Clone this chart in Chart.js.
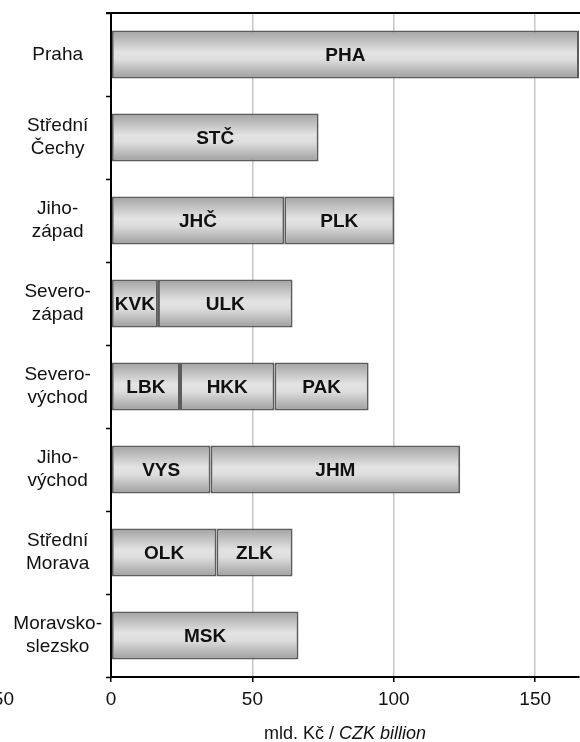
<!DOCTYPE html>
<html>
<head>
<meta charset="utf-8">
<script src="https://cdn.jsdelivr.net/npm/chart.js@4.4.0/dist/chart.umd.min.js"></script>
<style>
  html, body { margin: 0; padding: 0; background: #fff; }
  #wrap { width: 580px; height: 742px; }
</style>
</head>
<body>
<div id="wrap"><canvas id="myChart"></canvas></div>
<script>
// regions (y axis), two-line labels
var categories = [
    ['Praha'],
    ['Střední', 'Čechy'],
    ['Jiho-', 'západ'],
    ['Severo-', 'západ'],
    ['Severo-', 'východ'],
    ['Jiho-', 'východ'],
    ['Střední', 'Morava'],
    ['Moravsko-', 'slezsko']
];
// stacked segments, mld. Kč
var seg1 = [165.5, 73.4, 61.3, 16.6, 24.4, 35.2, 37.3, 66.3];
var seg2 = [null, null, 38.9, 47.6, 33.4, 88.3, 26.9, null];
var seg3 = [null, null, null, null, 33.3, null, null, null];
var names1 = ['PHA', 'STČ', 'JHČ', 'KVK', 'LBK', 'VYS', 'OLK', 'MSK'];
var names2 = ['', '', 'PLK', 'ULK', 'HKK', 'JHM', 'ZLK', ''];
var names3 = ['', '', '', '', 'PAK', '', '', ''];
var xTicks = [0, 50, 100, 150];

var font = '"Liberation Sans", Arial, sans-serif';

var barFill = function (c) {
    var chart = c.chart;
    if (!chart.chartArea || !chart.scales.y) return '#d0d0d0';
    var y = chart.scales.y.getPixelForValue(c.dataIndex);
    var h = 24;
    var g = chart.ctx.createLinearGradient(0, y - h, 0, y + h);
    g.addColorStop(0, '#a2a2a2');
    g.addColorStop(0.45, '#e3e3e3');
    g.addColorStop(0.6, '#dedede');
    g.addColorStop(1, '#9e9e9e');
    return g;
};

function makeSet(vals, names) {
    return {
        data: vals,
        names: names,
        backgroundColor: barFill,
        borderColor: '#5c5c5c',
        borderWidth: 2,
        borderSkipped: false,
        barPercentage: 0.58,
        categoryPercentage: 1
    };
}

var segLabels = {
    id: 'segLabels',
    afterDatasetsDraw: function (chart) {
        var ctx = chart.ctx;
        ctx.save();
        ctx.font = 'bold 19px ' + font;
        ctx.fillStyle = '#111';
        ctx.textAlign = 'center';
        ctx.textBaseline = 'middle';
        chart.data.datasets.forEach(function (ds, i) {
            chart.getDatasetMeta(i).data.forEach(function (el, j) {
                var t = ds.names[j];
                if (!t || ds.data[j] == null) return;
                var right = Math.min(el.x, chart.chartArea.right);
                ctx.fillText(t, (el.base + right) / 2, el.y + 1);
            });
        });
        ctx.restore();
    }
};

var frame = {
    id: 'frame',
    afterDraw: function (chart) {
        var ctx = chart.ctx;
        var a = chart.chartArea;
        ctx.save();
        ctx.strokeStyle = '#000';
        ctx.lineWidth = 2;
        ctx.beginPath();
        ctx.moveTo(a.left - 5, a.top);
        ctx.lineTo(a.right + 5, a.top);
        ctx.stroke();

        // axis title, mixed upright / italic
        ctx.fillStyle = '#111';
        ctx.textBaseline = 'alphabetic';
        var p1 = 'mld. Kč / ';
        var p2 = 'CZK billion';
        ctx.font = '18px ' + font;
        var w1 = ctx.measureText(p1).width;
        ctx.font = 'italic 18px ' + font;
        var w2 = ctx.measureText(p2).width;
        var x0 = (a.left + a.right) / 2 - (w1 + w2) / 2;
        ctx.font = '18px ' + font;
        ctx.textAlign = 'left';
        ctx.fillText(p1, x0, 739);
        ctx.font = 'italic 18px ' + font;
        ctx.fillText(p2, x0 + w1, 739);

        // neighbouring panel's last tick label, cut by the frame
        ctx.font = '19px ' + font;
        ctx.textAlign = 'right';
        ctx.textBaseline = 'middle';
        ctx.fillText('150', 14, 700);
        ctx.restore();
    }
};

var ctx = document.getElementById('myChart');
new Chart(ctx, {
    type: 'bar',
    data: {
        labels: categories,
        datasets: [makeSet(seg1, names1), makeSet(seg2, names2), makeSet(seg3, names3)]
    },
    options: {
        indexAxis: 'y',
        responsive: true,
        maintainAspectRatio: false,
        animation: false,
        layout: { padding: { top: 13, right: 1, bottom: 30, left: 0 } },
        plugins: {
            legend: { display: false },
            tooltip: { enabled: false }
        },
        scales: {
            x: {
                stacked: true,
                min: 0,
                max: 165.5,
                afterBuildTicks: function (scale) {
                    scale.ticks = xTicks.map(function (v) { return { value: v }; });
                },
                afterFit: function (scale) {
                    scale.height = 35;
                    scale.paddingLeft = 0;
                    scale.paddingRight = 0;
                },
                grid: {
                    color: '#c6c6c6',
                    lineWidth: 1.5,
                    tickColor: '#000',
                    tickLength: 5,
                    tickWidth: 1.5
                },
                border: { color: '#000', width: 2 },
                ticks: {
                    color: '#111',
                    padding: 6,
                    font: { family: font, size: 19 }
                }
            },
            y: {
                stacked: true,
                afterFit: function (scale) {
                    scale.width = 111;
                    scale.paddingTop = 0;
                    scale.paddingBottom = 0;
                },
                grid: {
                    drawOnChartArea: false,
                    tickColor: '#000',
                    tickLength: 5,
                    tickWidth: 1.5
                },
                border: { color: '#000', width: 2 },
                ticks: {
                    color: '#111',
                    padding: 4,
                    crossAlign: 'center',
                    font: { family: font, size: 19, lineHeight: 1.2 }
                }
            }
        }
    },
    plugins: [segLabels, frame]
});
</script>
</body>
</html>
